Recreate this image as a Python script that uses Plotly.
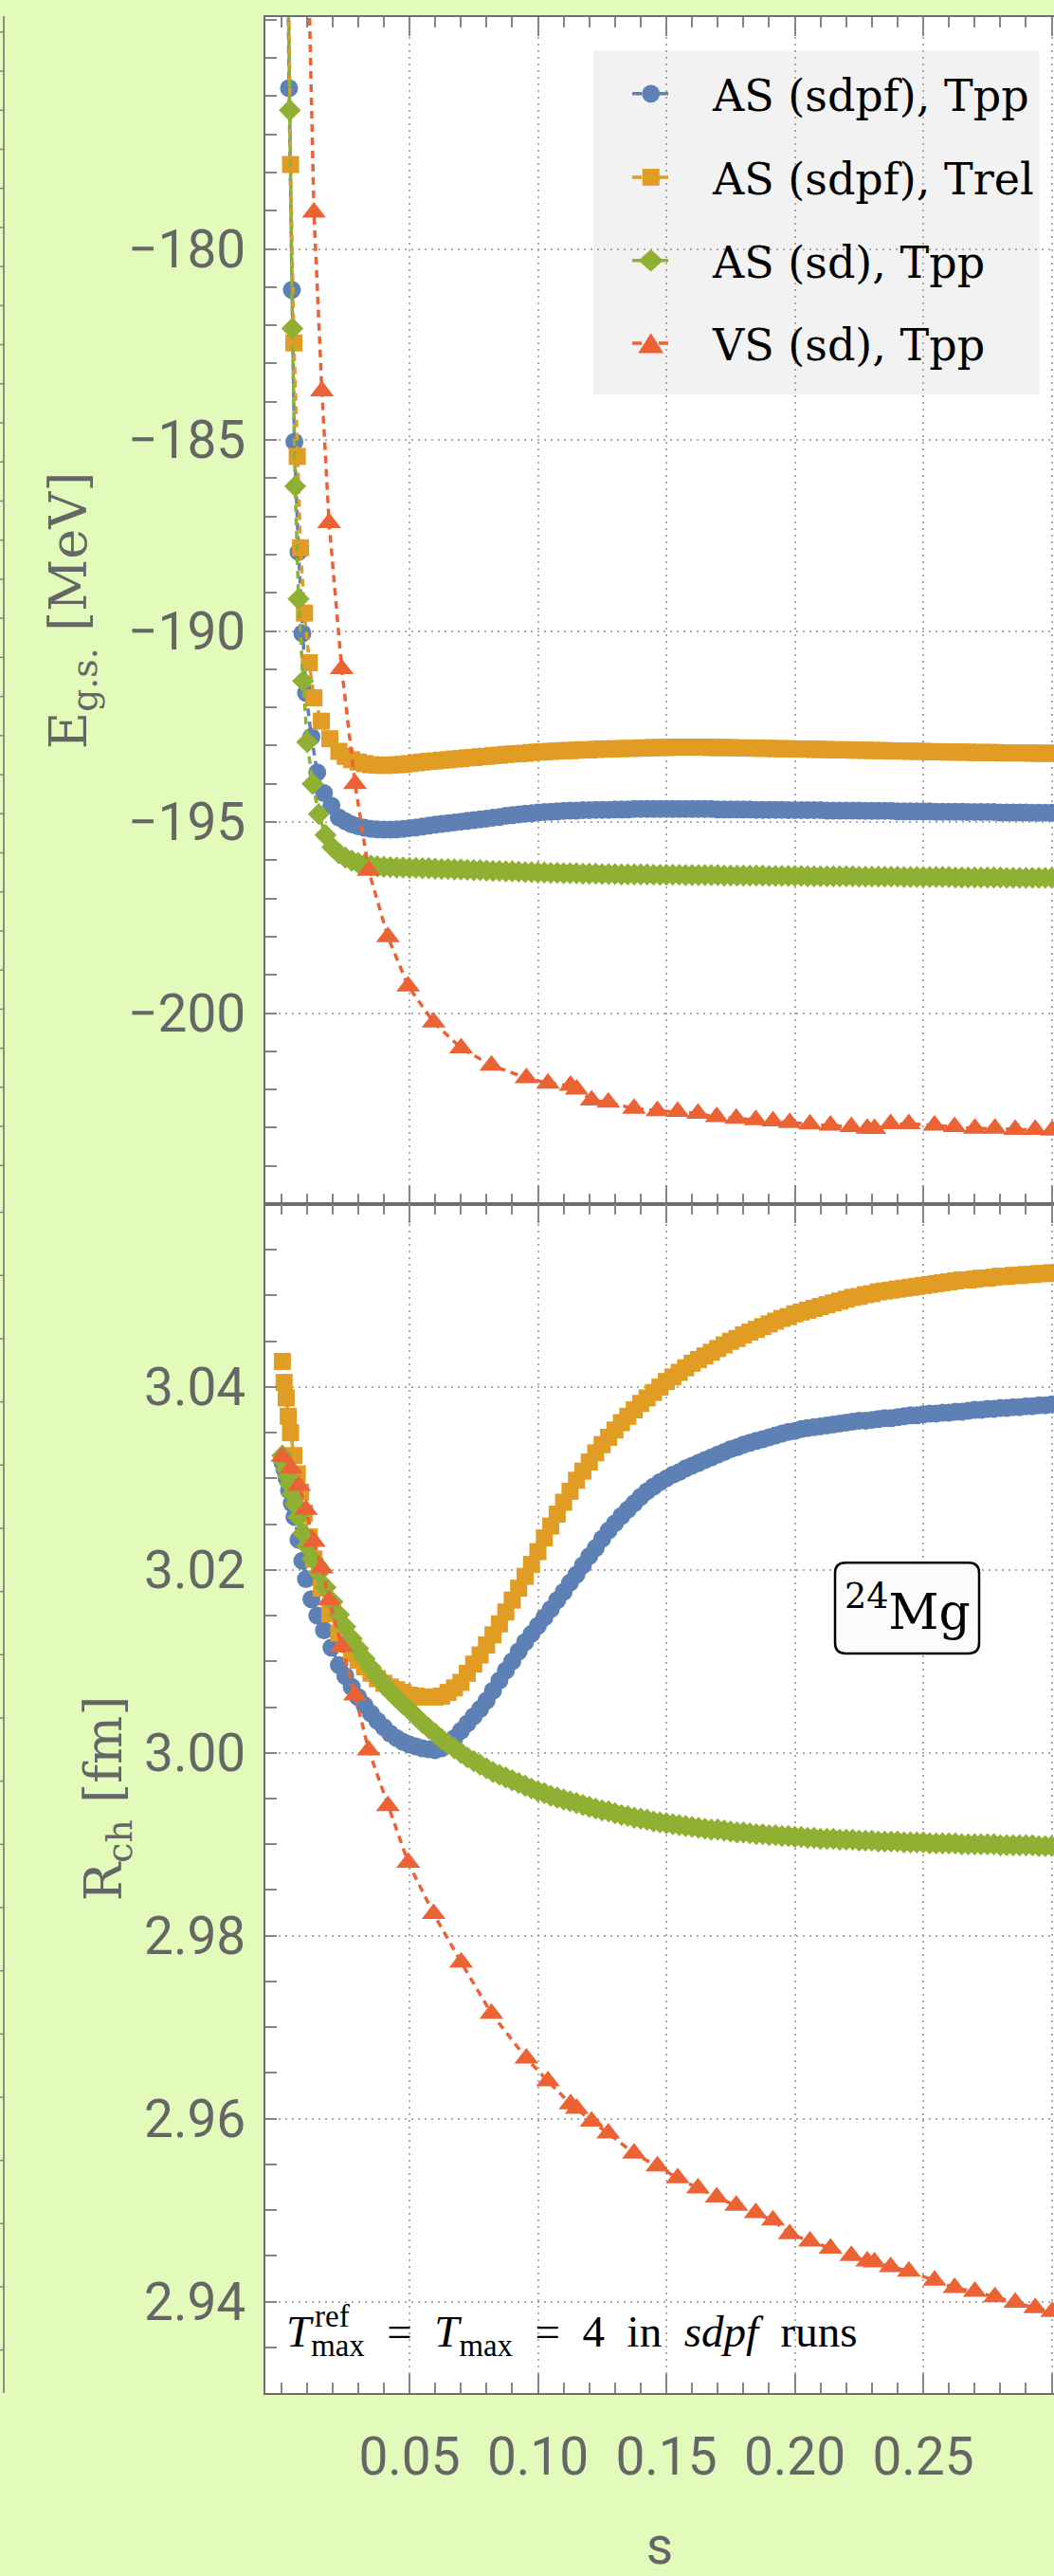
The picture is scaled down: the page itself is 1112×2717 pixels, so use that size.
import plotly.graph_objects as go

# ---------------- data ----------------
# flow parameter s for the densely sampled runs (after the first steps)
S_TAIL = [
    0.0225, 0.0250, 0.0275, 0.0300, 0.0325, 0.0350, 0.0375, 0.0400, 0.0425, 0.0450,
    0.0475, 0.0500, 0.0525, 0.0550, 0.0575, 0.0600, 0.0625, 0.0650, 0.0675, 0.0700,
    0.0725, 0.0750, 0.0775, 0.0800, 0.0825, 0.0850, 0.0875, 0.0900, 0.0925, 0.0950,
    0.0975, 0.1000, 0.1025, 0.1050, 0.1075, 0.1100, 0.1125, 0.1150, 0.1175, 0.1200,
    0.1225, 0.1250, 0.1275, 0.1300, 0.1325, 0.1350, 0.1375, 0.1400, 0.1425, 0.1450,
    0.1475, 0.1500, 0.1525, 0.1550, 0.1575, 0.1600, 0.1625, 0.1650, 0.1675, 0.1700,
    0.1725, 0.1750, 0.1775, 0.1800, 0.1825, 0.1850, 0.1875, 0.1900, 0.1925, 0.1950,
    0.1975, 0.2000, 0.2025, 0.2050, 0.2075, 0.2100, 0.2125, 0.2150, 0.2175, 0.2200,
    0.2225, 0.2250, 0.2275, 0.2300, 0.2325, 0.2350, 0.2375, 0.2400, 0.2425, 0.2450,
    0.2475, 0.2500, 0.2525, 0.2550, 0.2575, 0.2600, 0.2625, 0.2650, 0.2675, 0.2700,
    0.2725, 0.2750, 0.2775, 0.2800, 0.2825, 0.2850, 0.2875, 0.2900, 0.2925, 0.2950,
    0.2975, 0.3000, 0.3025,
]

# AS (sdpf), Tpp
S_AS_SDPF_TPP = [0.0005, 0.0013, 0.0022, 0.0031, 0.0042, 0.0052, 0.0068, 0.0083, 0.0097,
                 0.0118, 0.0141, 0.0167, 0.0196] + S_TAIL
E_AS_SDPF_TPP = [
    -150.0, -160.0, -169.0, -175.79, -181.07, -185.05, -187.93, -190.06, -191.62,
    -192.77, -193.70, -194.24, -194.57,
    -194.88, -194.98, -195.06, -195.11, -195.15, -195.18, -195.19, -195.20, -195.20, -195.19,
    -195.18, -195.16, -195.14, -195.12, -195.09, -195.07, -195.05, -195.03, -195.01, -194.99,
    -194.97, -194.95, -194.93, -194.91, -194.89, -194.87, -194.84, -194.82, -194.80, -194.78,
    -194.77, -194.75, -194.74, -194.73, -194.72, -194.71, -194.70, -194.70, -194.69, -194.69,
    -194.68, -194.68, -194.68, -194.67, -194.67, -194.67, -194.66, -194.66, -194.66, -194.66,
    -194.66, -194.66, -194.66, -194.66, -194.66, -194.66, -194.66, -194.66, -194.66, -194.67,
    -194.67, -194.67, -194.67, -194.67, -194.67, -194.68, -194.68, -194.68, -194.68, -194.68,
    -194.69, -194.69, -194.69, -194.69, -194.69, -194.69, -194.70, -194.70, -194.70, -194.70,
    -194.70, -194.70, -194.71, -194.71, -194.71, -194.71, -194.71, -194.72, -194.72, -194.72,
    -194.72, -194.72, -194.72, -194.73, -194.73, -194.73, -194.73, -194.73, -194.74, -194.74,
    -194.74, -194.74, -194.74, -194.75, -194.75, -194.75, -194.75, -194.75, -194.76, -194.76,
    -194.76, -194.76, -194.76,
]
R_AS_SDPF_TPP = [
    3.0318, 3.0310, 3.0300, 3.0287, 3.0273, 3.0258, 3.0233, 3.0210, 3.0190,
    3.0168, 3.0150, 3.0134, 3.0115,
    3.0096, 3.0084, 3.0072, 3.0061, 3.0052, 3.0043, 3.0035, 3.0028, 3.0021, 3.0016,
    3.0012, 3.0009, 3.0007, 3.0005, 3.0004, 3.0003, 3.0005, 3.0009, 3.0016, 3.0024,
    3.0032, 3.0040, 3.0048, 3.0057, 3.0068, 3.0079, 3.0090, 3.0100, 3.0111, 3.0121,
    3.0130, 3.0139, 3.0148, 3.0157, 3.0167, 3.0176, 3.0186, 3.0195, 3.0205, 3.0215,
    3.0224, 3.0234, 3.0243, 3.0251, 3.0259, 3.0266, 3.0273, 3.0280, 3.0286, 3.0291,
    3.0296, 3.0300, 3.0304, 3.0307, 3.0311, 3.0314, 3.0317, 3.0320, 3.0323, 3.0326,
    3.0329, 3.0332, 3.0334, 3.0337, 3.0339, 3.0341, 3.0343, 3.0345, 3.0347, 3.0349,
    3.0351, 3.0352, 3.0354, 3.0355, 3.0356, 3.0357, 3.0358, 3.0359, 3.0360, 3.0361,
    3.0362, 3.0363, 3.0363, 3.0364, 3.0365, 3.0366, 3.0366, 3.0367, 3.0368, 3.0369,
    3.0369, 3.0370, 3.0371, 3.0371, 3.0372, 3.0372, 3.0373, 3.0373, 3.0374, 3.0375,
    3.0375, 3.0376, 3.0376, 3.0377, 3.0377, 3.0378, 3.0378, 3.0379, 3.0379, 3.0380,
    3.0380, 3.0381, 3.0381,
]

# AS (sdpf), Trel
S_AS_SDPF_TREL = [0.0005, 0.0012, 0.0020, 0.0028, 0.0037, 0.0050, 0.0063, 0.0076, 0.0091,
                  0.0110, 0.0128, 0.0157, 0.0190] + S_TAIL
E_AS_SDPF_TREL = [
    -140.0, -155.0, -165.0, -172.0, -177.79, -182.46, -185.43, -187.82, -189.53,
    -190.83, -191.75, -192.36, -192.82,
    -193.15, -193.28, -193.37, -193.43, -193.47, -193.50, -193.51, -193.52, -193.51, -193.50,
    -193.49, -193.47, -193.45, -193.43, -193.41, -193.40, -193.38, -193.37, -193.35, -193.34,
    -193.32, -193.31, -193.29, -193.28, -193.26, -193.25, -193.23, -193.22, -193.21, -193.20,
    -193.18, -193.17, -193.16, -193.15, -193.14, -193.13, -193.13, -193.12, -193.11, -193.11,
    -193.10, -193.09, -193.09, -193.08, -193.08, -193.07, -193.07, -193.06, -193.06, -193.05,
    -193.05, -193.05, -193.04, -193.04, -193.04, -193.04, -193.04, -193.04, -193.05, -193.05,
    -193.05, -193.05, -193.06, -193.06, -193.06, -193.07, -193.07, -193.07, -193.08, -193.08,
    -193.08, -193.09, -193.09, -193.09, -193.10, -193.10, -193.10, -193.11, -193.11, -193.11,
    -193.12, -193.12, -193.12, -193.13, -193.13, -193.13, -193.14, -193.14, -193.14, -193.15,
    -193.15, -193.15, -193.16, -193.16, -193.16, -193.17, -193.17, -193.17, -193.17, -193.18,
    -193.18, -193.18, -193.18, -193.19, -193.19, -193.19, -193.19, -193.19, -193.20, -193.20,
    -193.20, -193.20, -193.20,
]
R_AS_SDPF_TREL = [
    3.0428, 3.0405, 3.0388, 3.0368, 3.0350, 3.0325, 3.0305, 3.0285, 3.0262,
    3.0236, 3.0212, 3.0180, 3.0152,
    3.0131, 3.0119, 3.0109, 3.0101, 3.0094, 3.0087, 3.0081, 3.0076, 3.0072, 3.0069,
    3.0066, 3.0063, 3.0062, 3.0061, 3.0061, 3.0061, 3.0062, 3.0066, 3.0071, 3.0077,
    3.0087, 3.0097, 3.0107, 3.0118, 3.0129, 3.0141, 3.0154, 3.0167, 3.0180, 3.0193,
    3.0206, 3.0220, 3.0235, 3.0248, 3.0261, 3.0274, 3.0286, 3.0298, 3.0308, 3.0318,
    3.0328, 3.0337, 3.0345, 3.0353, 3.0361, 3.0368, 3.0375, 3.0382, 3.0388, 3.0394,
    3.0400, 3.0406, 3.0411, 3.0416, 3.0421, 3.0426, 3.0430, 3.0434, 3.0438, 3.0442,
    3.0446, 3.0450, 3.0453, 3.0457, 3.0460, 3.0463, 3.0466, 3.0469, 3.0472, 3.0475,
    3.0477, 3.0480, 3.0482, 3.0484, 3.0486, 3.0488, 3.0490, 3.0492, 3.0494, 3.0496,
    3.0498, 3.0499, 3.0501, 3.0502, 3.0504, 3.0505, 3.0506, 3.0507, 3.0508, 3.0509,
    3.0510, 3.0511, 3.0512, 3.0513, 3.0514, 3.0515, 3.0516, 3.0517, 3.0517, 3.0518,
    3.0519, 3.0519, 3.0520, 3.0521, 3.0521, 3.0522, 3.0522, 3.0523, 3.0523, 3.0524,
    3.0524, 3.0525, 3.0525,
]

# AS (sd), Tpp
S_AS_SD_TPP = [0.0005, 0.0012, 0.0020, 0.0027, 0.0034, 0.0044, 0.0055, 0.0068, 0.0086,
               0.0102, 0.0123, 0.0147, 0.0173, 0.0200] + S_TAIL
E_AS_SD_TPP = [
    -145.0, -158.0, -167.0, -172.5, -176.37, -182.08, -186.21, -189.16, -191.31,
    -192.91, -194.00, -194.79, -195.34, -195.66,
    -195.82, -195.93, -196.01, -196.07, -196.11, -196.14, -196.16, -196.17, -196.18, -196.19,
    -196.19, -196.20, -196.20, -196.21, -196.21, -196.22, -196.23, -196.23, -196.24, -196.24,
    -196.25, -196.26, -196.26, -196.27, -196.28, -196.28, -196.29, -196.29, -196.30, -196.31,
    -196.31, -196.32, -196.32, -196.33, -196.33, -196.34, -196.34, -196.34, -196.35, -196.35,
    -196.35, -196.36, -196.36, -196.36, -196.37, -196.37, -196.37, -196.37, -196.37, -196.38,
    -196.38, -196.38, -196.38, -196.38, -196.39, -196.39, -196.39, -196.39, -196.39, -196.39,
    -196.40, -196.40, -196.40, -196.40, -196.40, -196.40, -196.40, -196.41, -196.41, -196.41,
    -196.41, -196.41, -196.41, -196.42, -196.42, -196.42, -196.42, -196.42, -196.42, -196.42,
    -196.42, -196.43, -196.43, -196.43, -196.43, -196.43, -196.43, -196.43, -196.44, -196.44,
    -196.44, -196.44, -196.44, -196.44, -196.44, -196.44, -196.45, -196.45, -196.45, -196.45,
    -196.45, -196.45, -196.45, -196.45, -196.46, -196.46, -196.46, -196.46, -196.46, -196.46,
    -196.46, -196.46, -196.46,
]
R_AS_SD_TPP = [
    3.0325, 3.0318, 3.0310, 3.0302, 3.0294, 3.0283, 3.0272, 3.0258, 3.0240,
    3.0226, 3.0212, 3.0197, 3.0181, 3.0165,
    3.0151, 3.0138, 3.0125, 3.0114, 3.0103, 3.0093, 3.0084, 3.0076, 3.0067, 3.0060,
    3.0053, 3.0047, 3.0040, 3.0033, 3.0027, 3.0021, 3.0015, 3.0010, 3.0005, 3.0000,
    2.9995, 2.9991, 2.9987, 2.9983, 2.9979, 2.9976, 2.9973, 2.9970, 2.9967, 2.9964,
    2.9961, 2.9958, 2.9956, 2.9953, 2.9951, 2.9949, 2.9947, 2.9945, 2.9943, 2.9941,
    2.9939, 2.9937, 2.9936, 2.9934, 2.9932, 2.9931, 2.9929, 2.9928, 2.9927, 2.9925,
    2.9924, 2.9923, 2.9922, 2.9921, 2.9920, 2.9919, 2.9918, 2.9917, 2.9916, 2.9916,
    2.9915, 2.9914, 2.9913, 2.9913, 2.9912, 2.9911, 2.9911, 2.9910, 2.9910, 2.9909,
    2.9909, 2.9908, 2.9908, 2.9907, 2.9907, 2.9906, 2.9906, 2.9906, 2.9905, 2.9905,
    2.9905, 2.9904, 2.9904, 2.9904, 2.9903, 2.9903, 2.9903, 2.9903, 2.9902, 2.9902,
    2.9902, 2.9902, 2.9901, 2.9901, 2.9901, 2.9901, 2.9901, 2.9900, 2.9900, 2.9900,
    2.9900, 2.9900, 2.9900, 2.9899, 2.9899, 2.9899, 2.9899, 2.9899, 2.9899, 2.9898,
    2.9898, 2.9898, 2.9898,
]

# VS (sd), Tpp
S_VS_SD_TPP = [
    0.0005, 0.0039, 0.0070, 0.0097, 0.0128, 0.0159, 0.0187, 0.0236, 0.0288, 0.0341,
    0.0416, 0.0495, 0.0594, 0.0701, 0.0819, 0.0955, 0.1039, 0.1127, 0.1151, 0.1209,
    0.1274, 0.1374, 0.1465, 0.1544, 0.1623, 0.1696, 0.1772, 0.1848, 0.1915, 0.1980,
    0.2059, 0.2139, 0.2220, 0.2282, 0.2310, 0.2373, 0.2444, 0.2544, 0.2622, 0.2701,
    0.2779, 0.2858, 0.2936, 0.3002,
]
E_VS_SD_TPP = [
    -60.0, -120.0, -151.7, -169.7, -179.04, -183.72, -187.17, -190.99, -194.00, -196.27,
    -198.01, -199.30, -200.24, -200.92, -201.37, -201.70, -201.84, -201.90, -202.00, -202.28,
    -202.34, -202.50, -202.56, -202.58, -202.63, -202.72, -202.76, -202.80, -202.83, -202.87,
    -202.91, -202.94, -202.98, -203.02, -203.03, -202.90, -202.90, -202.94, -202.98, -203.02,
    -203.02, -203.05, -203.05, -203.07,
]
R_VS_SD_TPP = [
    3.0324, 3.0311, 3.0292, 3.0266, 3.0231, 3.0202, 3.0167, 3.0116, 3.0063, 3.0003,
    2.9942, 2.9880, 2.9824, 2.9771, 2.9715, 2.9666, 2.9641, 2.9616, 2.9611, 2.9597,
    2.9584, 2.9562, 2.9548, 2.9535, 2.9524, 2.9514, 2.9505, 2.9497, 2.9489, 2.9474,
    2.9466, 2.9458, 2.9450, 2.9444, 2.9443, 2.9438, 2.9433, 2.9423, 2.9415, 2.9411,
    2.9405, 2.9399, 2.9393, 2.9389,
]

SERIES_NAMES = ["AS (sdpf), Tpp", "AS (sdpf), Trel", "AS (sd), Tpp", "VS (sd), Tpp"]
X_TICKS = [0.05, 0.10, 0.15, 0.20, 0.25, 0.30]
E_TICKS = [-200, -195, -190, -185, -180]
R_TICKS = [2.94, 2.96, 2.98, 3.00, 3.02, 3.04]

RUNS = [
    (S_AS_SDPF_TPP, E_AS_SDPF_TPP, R_AS_SDPF_TPP),
    (S_AS_SDPF_TREL, E_AS_SDPF_TREL, R_AS_SDPF_TREL),
    (S_AS_SD_TPP, E_AS_SD_TPP, R_AS_SD_TPP),
    (S_VS_SD_TPP, E_VS_SD_TPP, R_VS_SD_TPP),
]
for s, e, r in RUNS:
    assert len(s) == len(e) == len(r), (len(s), len(e), len(r))

# ---------------- style ----------------
W, H = 1112, 2717
ML, MR, MT, MB = 280, 0, 18, 158
PW, PH = W - ML - MR, H - MT - MB
SPLIT = 0.5004

BG = "#e3fbba"
AXIS = "#6e6e6e"
TICK = "#858585"
GRID = "#aaaaaa"
LABEL = "#666666"
COLORS = ["#5e81b5", "#e19c24", "#8fb032", "#eb6235"]
SYMBOLS = ["circle", "square", "diamond", "triangle-up"]
SIZES = [19, 18, 18, 22]
TICK_FONT = dict(family="Roboto", size=55, color=LABEL)
TITLE_FONT = dict(family="DejaVu Serif", size=54, color=LABEL)
KEY_FONT = dict(family="DejaVu Serif", size=46, color="black")


def px_x(px):
    return (px - ML) / PW


def px_y(py):
    return (H - MB - py) / PH


fig = go.Figure()
for i, (s, e, r) in enumerate(RUNS):
    line = dict(color=COLORS[i], width=3.5, dash="8px,6px")
    marker = dict(symbol=SYMBOLS[i], size=SIZES[i], color=COLORS[i], line=dict(width=0))
    fig.add_trace(go.Scatter(x=s, y=e, mode="lines+markers", name=SERIES_NAMES[i],
                             line=line, marker=marker, showlegend=False,
                             xaxis="x", yaxis="y"))
    fig.add_trace(go.Scatter(x=s, y=r, mode="lines+markers", name=SERIES_NAMES[i],
                             line=line, marker=marker, showlegend=False,
                             xaxis="x2", yaxis="y2"))

x_common = dict(
    range=[-0.0061, 0.3009], showline=True, linecolor=AXIS, linewidth=1.5,
    mirror="ticks", ticks="inside", ticklen=20, tickwidth=1.5, tickcolor=TICK,
    tickmode="array", tickvals=X_TICKS, showgrid=True, gridcolor=GRID, gridwidth=1.5,
    griddash="2px,5px", zeroline=False,
    minor=dict(ticks="inside", ticklen=11, tickwidth=1.5, tickcolor=TICK,
               tickmode="linear", tick0=0, dtick=0.01, showgrid=False),
)
y_common = dict(
    showline=True, linecolor=AXIS, linewidth=1.5, mirror=False, ticks="inside",
    ticklen=12, tickwidth=1.5, tickcolor=TICK, tickmode="array", showgrid=True,
    gridcolor=GRID, gridwidth=1.5, griddash="2px,5px", zeroline=False,
    tickfont=TICK_FONT, ticklabelstandoff=8,
)

fig.update_layout(
    width=W, height=H,
    margin=dict(l=ML, r=MR, t=MT, b=MB, pad=0),
    paper_bgcolor=BG, plot_bgcolor="white",
    showlegend=False,
    xaxis=dict(anchor="y", domain=[0, 1], showticklabels=False, **x_common),
    xaxis2=dict(anchor="y2", domain=[0, 1], showticklabels=True, tickfont=TICK_FONT,
                ticklabelstandoff=18, tickformat=".2f",
                title=dict(text="s", font=dict(family="Roboto", size=55, color=LABEL),
                           standoff=56),
                **x_common),
    yaxis=dict(anchor="x", domain=[SPLIT, 1], range=[-205.0, -173.93], tickvals=E_TICKS,
               minor=dict(ticks="inside", ticklen=12, tickwidth=1.5, tickcolor=TICK,
                          tickmode="linear", tick0=0, dtick=1, showgrid=False),
               title=dict(text="E<sub>g.s.</sub> [MeV]", font=TITLE_FONT, standoff=26),
               **y_common),
    yaxis2=dict(anchor="x2", domain=[0, SPLIT], range=[2.93, 3.06], tickvals=R_TICKS,
                tickformat=".2f",
                minor=dict(ticks="inside", ticklen=12, tickwidth=1.5, tickcolor=TICK,
                           tickmode="linear", tick0=0, dtick=0.005, showgrid=False),
                title=dict(text="R<sub>ch</sub> [fm]", font=TITLE_FONT, standoff=6),
                **y_common),
)

shapes = []
annotations = []

# ---- key panel: grey box, a dashed stroke and a marker per run, then the label ----
shapes.append(dict(type="rect", xref="paper", yref="paper", layer="below",
                   x0=px_x(626), x1=px_x(1097), y0=px_y(421.7), y1=px_y(54),
                   fillcolor="#f2f2f2", line=dict(width=0)))
KEY_CX = 686.7
KEY_ROWS = [100.0, 189.3, 278.3, 366.7]
KEY_TEXT_Y = [102.5, 191.0, 280.3, 369.3]
for i, cy in enumerate(KEY_ROWS):
    shapes.append(dict(type="line", xref="paper", yref="paper", layer="above",
                       x0=px_x(667), x1=px_x(706), y0=px_y(cy), y1=px_y(cy),
                       line=dict(color=COLORS[i], width=3.5, dash="10px,4px")))
    col = dict(fillcolor=COLORS[i], line=dict(width=0), xref="paper", yref="paper",
               layer="above")
    if SYMBOLS[i] == "circle":
        shapes.append(dict(type="circle", x0=px_x(KEY_CX - 9.5), x1=px_x(KEY_CX + 9.5),
                           y0=px_y(cy + 9.5), y1=px_y(cy - 9.5), **col))
    elif SYMBOLS[i] == "square":
        shapes.append(dict(type="rect", x0=px_x(KEY_CX - 9), x1=px_x(KEY_CX + 9),
                           y0=px_y(cy + 9), y1=px_y(cy - 9), **col))
    elif SYMBOLS[i] == "diamond":
        p = (f"M {px_x(KEY_CX - 13)},{px_y(cy)} L {px_x(KEY_CX)},{px_y(cy - 12)} "
             f"L {px_x(KEY_CX + 13)},{px_y(cy)} L {px_x(KEY_CX)},{px_y(cy + 12)} Z")
        shapes.append(dict(type="path", path=p, **col))
    else:
        p = (f"M {px_x(KEY_CX - 13.4)},{px_y(cy + 10.8)} L {px_x(KEY_CX)},{px_y(cy - 10.8)} "
             f"L {px_x(KEY_CX + 13.4)},{px_y(cy + 10.8)} Z")
        shapes.append(dict(type="path", path=p, **col))
    annotations.append(dict(xref="paper", yref="paper", x=px_x(749), y=px_y(KEY_TEXT_Y[i]),
                            xanchor="left", yanchor="middle", showarrow=False,
                            text=SERIES_NAMES[i], font=KEY_FONT))

# ---- rounded frame around the nucleus label ----
bx0, bx1, by0, by1, rad = 881, 1033, 1671, 1768, 11
rx, ry = rad / PW, rad / PH
X0, X1, Y0, Y1 = px_x(bx0), px_x(bx1), px_y(by1), px_y(by0)
path = (f"M {X0 + rx},{Y0} L {X1 - rx},{Y0} Q {X1},{Y0} {X1},{Y0 + ry} "
        f"L {X1},{Y1 - ry} Q {X1},{Y1} {X1 - rx},{Y1} L {X0 + rx},{Y1} "
        f"Q {X0},{Y1} {X0},{Y1 - ry} L {X0},{Y0 + ry} Q {X0},{Y0} {X0 + rx},{Y0} Z")
shapes.append(dict(type="path", xref="paper", yref="paper", layer="above", path=path,
                   fillcolor="#fbfbfb", line=dict(color="black", width=2.5)))

# ---- frame edge of the neighbouring panel at the far left ----
shapes.append(dict(type="line", xref="paper", yref="paper", x0=px_x(4), x1=px_x(4),
                   y0=px_y(17), y1=px_y(2559), line=dict(color=AXIS, width=1.5)))
yy = 34.0
while yy < 1286:
    shapes.append(dict(type="line", xref="paper", yref="paper", x0=px_x(0), x1=px_x(4),
                       y0=px_y(yy), y1=px_y(yy), line=dict(color=TICK, width=1.5)))
    yy += 41.8
yy = 2513.0
while yy > 1290:
    shapes.append(dict(type="line", xref="paper", yref="paper", x0=px_x(0), x1=px_x(4),
                       y0=px_y(yy), y1=px_y(yy), line=dict(color=TICK, width=1.5)))
    yy -= 67.6

annotations += [
    dict(xref="paper", yref="paper", x=px_x(957), y=px_y(1719), xanchor="center",
         yanchor="middle", showarrow=False, text="<sup>24</sup>Mg",
         font=dict(family="DejaVu Serif", size=52, color="black")),
    dict(xref="paper", yref="paper", x=px_x(300), y=px_y(2497), xanchor="left",
         yanchor="middle", showarrow=False,
         text="<i>T</i><sub>max</sub>  =  <i>T</i><sub>max</sub>  =  4  in  <i>sdpf</i>  runs",
         font=dict(family="Liberation Serif", size=47, color="black")),
    dict(xref="paper", yref="paper", x=px_x(330), y=px_y(2477), xanchor="left",
         yanchor="middle", showarrow=False, text="ref",
         font=dict(family="Liberation Serif", size=33, color="black")),
]

fig.update_layout(shapes=shapes, annotations=annotations)
fig.write_html("out.html")
